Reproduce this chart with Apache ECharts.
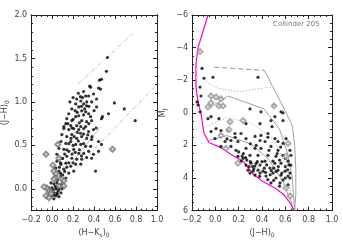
<!DOCTYPE html>
<html><head><meta charset="utf-8">
<script src="https://cdn.jsdelivr.net/npm/echarts@6/dist/echarts.min.js"></script>
<style>html,body{margin:0;padding:0;background:#fff}#c{width:343px;height:243px}</style>
</head><body><div id="c"></div>
<script>
// ---------- LEFT PANEL: (J-H)0 vs (H-Ks)0 ----------
const leftFilled = [
[0.528,1.511],[0.518,1.352],[0.452,1.25],[0.471,1.261],[0.358,1.182],[0.443,1.159],[0.462,1.148],[0.367,1.17],
[0.395,1.091],[0.348,1.068],[0.32,1.068],[0.424,1.034],[0.235,1.034],[0.273,1.011],[0.301,0.977],[0.329,0.955],
[0.377,1.0],[0.424,0.943],[0.225,0.977],[0.254,0.943],[0.282,0.898],[0.188,0.92],[0.32,0.886],[0.348,0.864],
[0.367,0.83],[0.254,0.841],[0.225,0.83],[0.159,0.864],[0.14,0.807],[0.188,0.784],[0.282,0.784],[0.329,0.773],
[0.377,0.784],[0.471,0.807],[0.131,0.75],[0.178,0.727],[0.235,0.727],[0.273,0.716],[0.32,0.716],[0.112,0.716],
[0.594,0.989],[0.688,0.92],[0.537,0.864],[0.48,0.83],[0.792,0.784],[0.443,0.432],[0.414,0.205],
[0.112,0.693],[0.159,0.682],[0.206,0.693],[0.254,0.682],[0.301,0.693],[0.348,0.659],[0.395,0.682],
[0.093,0.625],[0.14,0.602],[0.188,0.625],[0.235,0.58],[0.282,0.602],[0.329,0.58],[0.377,0.568],
[0.084,0.545],[0.131,0.523],[0.178,0.545],[0.225,0.511],[0.273,0.511],[0.32,0.489],[0.367,0.489],[0.443,0.545],[0.471,0.511],
[0.065,0.466],[0.112,0.455],[0.159,0.432],[0.206,0.455],[0.254,0.409],[0.301,0.409],[0.348,0.432],[0.395,0.398],
[0.046,0.398],[0.093,0.352],[0.14,0.375],[0.188,0.352],[0.235,0.341],[0.282,0.341],[0.377,0.352],
[0.046,0.318],[0.084,0.284],[0.131,0.295],[0.178,0.261],[0.225,0.284],[0.273,0.284],
[0.036,0.239],[0.065,0.205],[0.112,0.227],[0.159,0.182],[0.206,0.205],
[0.036,0.148],[0.084,0.148],[0.131,0.125],
[-0.011,0.068],[0.017,0.057],[0.046,0.068],[0.084,0.045],[-0.03,0.011],[-0.002,0.011],[0.036,0.0],[0.065,0.0],[0.093,0.0],
[-0.011,-0.023],[0.017,-0.045],[0.046,-0.045],[0.084,-0.045],[-0.002,-0.08],[0.036,-0.08],[0.065,-0.09],[0.017,-0.114],
[0.2,1.05],[0.25,1.1],[0.3,1.12],[0.33,1.0],[0.22,0.9],[0.3,0.85],[0.15,0.75],[0.2,0.8],[0.26,0.76],[0.35,0.95],
[0.28,0.95],[0.24,0.65],[0.3,0.63],[0.18,0.58],[0.14,0.45],[0.2,0.5],[0.26,0.45],[0.1,0.35],[0.16,0.3],[0.22,0.42],
[0.12,0.2],[0.05,0.1],[0.1,0.08],[0.0,-0.03],[0.03,0.03],[0.06,-0.02],[0.08,0.18],[0.02,-0.07],
[0.17,1.0],[0.27,1.06],[0.31,0.92],[0.24,0.88],[0.19,0.7],[0.27,0.64],[0.34,0.62],[0.21,0.6],[0.16,0.52],[0.25,0.55],
[0.3,0.52],[0.12,0.4],[0.19,0.4],[0.28,0.38],[0.33,0.36],[0.08,0.3],[0.14,0.25],[0.2,0.3],[0.1,0.16],[0.07,0.25],
[0.04,0.02],[0.07,0.04],[0.01,-0.01],[0.05,-0.06],[0.11,0.02],[0.35,0.75],[0.4,0.9],[0.38,0.6],[0.42,0.7],[0.29,1.05]
];
const leftOpen = [
[-0.058,0.398],[0.055,0.511],[0.575,0.455],[0.017,0.205],[0.036,0.17],[0.036,0.125],[0.017,0.114],[0.093,0.114],
[-0.049,0.011],[-0.077,0.023],[-0.03,-0.023],[-0.058,-0.08],[-0.011,-0.034],[-0.011,-0.057],[-0.03,-0.102],
[0.065,0.034],[0.112,0.091],[0.112,0.034],[0.008,0.273],[0.065,0.352]
];
const redUpper = [[0.25,1.21],[0.77,1.79]];
const redLower = [[0.29,0.32],[1.0,1.2]];
const cttsLine = [[0.2,0.32],[0.46,0.71]];

// ---------- RIGHT PANEL: M_J vs (J-H)0 ----------
const rightFilled = [
[-0.114,-2.73],[-0.097,-2.12],[-0.02,-2.18],[-0.123,-1.03],[-0.131,-1.58],[0.366,-2.18],[-0.157,-0.67],[-0.149,-0.48],
[0.297,-0.24],[0.503,-0.48],[0.58,0.0],[0.511,0.24],[-0.037,0.24],[0.031,0.36],[-0.131,-0.06],[-0.063,0.36],
[0.263,0.67],[0.383,0.67],[-0.037,1.15],[0.006,0.97],[0.049,1.09],[0.108,1.09],[0.168,1.27],[0.22,1.27],
[-0.003,1.58],[0.083,1.76],[0.134,1.7],[0.194,1.76],[0.263,1.58],[0.34,1.45],[0.383,1.7],[0.049,2.06],[0.134,2.06],
[0.177,2.3],[0.263,2.18],[0.34,2.18],[0.194,2.67],[0.237,2.79],[0.297,2.61],[0.366,2.61],[0.22,2.97],[0.263,3.21],
[0.306,3.09],[0.34,3.27],[0.383,3.21],[0.28,3.52],[0.323,3.58],[0.366,3.52],[0.34,3.82],[0.383,3.7],[0.297,3.7],
[0.486,0.85],[0.451,1.27],[0.391,1.39],[0.537,1.76],[0.511,1.58],[0.426,1.76],[0.58,1.88],[0.606,1.58],[0.391,2.18],
[0.477,2.06],[0.537,2.3],[0.64,2.3],[0.451,2.61],[0.52,2.67],[0.58,2.61],[0.648,2.61],[0.426,2.97],[0.494,2.97],
[0.563,3.09],[0.623,2.97],[0.648,3.21],[0.468,3.39],[0.537,3.52],[0.597,3.58],[0.64,3.7],[0.408,3.58],[0.494,3.7],
[0.563,3.82],[0.623,3.88],[0.434,3.88],[0.52,4.0],[0.58,4.12],[0.64,4.0],[0.477,4.3],[0.554,4.3],[0.623,4.42],
[0.58,0.48],[0.477,0.48],[0.563,-0.06],[0.391,-0.06],
[0.24,2.5],[0.27,2.9],[0.3,3.0],[0.32,3.3],[0.36,3.0],[0.38,3.9],[0.42,3.4],[0.44,3.2],[0.47,3.8],[0.5,3.4],
[0.52,3.6],[0.55,2.9],[0.6,3.3],[0.62,3.5],[0.45,4.1],[0.55,4.5],[0.6,4.0],
[0.2,2.4],[0.23,2.65],[0.26,2.75],[0.29,3.3],[0.33,3.45],[0.35,3.1],[0.4,3.0],[0.43,3.65],[0.48,3.55],[0.51,3.1],
[0.54,3.3],[0.57,3.7],[0.6,2.8],[0.63,3.2],[0.5,4.15],[0.53,2.5],[0.46,2.3],[0.35,2.0],[0.3,1.9],[0.17,1.5],
[0.1,1.6],[0.45,1.5],[0.56,2.1]
];
const rightOpen = [
[-0.131,-3.76],[-0.037,-1.03],[0.006,-0.97],[0.049,-0.85],[0.031,-0.42],[0.066,-0.42],[-0.037,-0.61],[-0.063,-0.36],
[0.503,-0.42],[0.126,0.55],[0.237,0.48],[0.049,1.39],[0.091,2.18],[0.194,3.09],[0.606,2.67],[0.623,1.88],
[0.606,4.61],[0.64,5.1],[0.117,1.03]
];
const zams = [
[-0.063,-6.0],[-0.106,-4.97],[-0.149,-4.0],[-0.166,-2.97],[-0.166,-1.58],[-0.149,-0.73],[-0.123,0.06],[-0.097,1.27],
[-0.054,1.82],[0.04,2.12],[0.16,2.67],[0.237,2.97],[0.323,3.76],[0.4,4.18],[0.511,4.61],[0.588,5.03],[0.64,5.52],[0.674,6.0]
];
const isoDashed = [[-0.01,-2.8],[0.42,-2.6]];
const isoA = [[0.42,-2.6],[0.6,-0.1],[0.66,0.8],[0.68,2.0],[0.69,3.5],[0.69,5.0],[0.68,6.0]];
const isoDotA = [[-0.08,-1.9],[0.02,-1.5],[0.2,-1.3],[0.48,-1.6]];
const isoB = [[-0.063,-0.24],[0.109,-1.03],[0.417,-0.24],[0.55,1.0],[0.62,2.5],[0.66,4.0],[0.68,6.0]];
const isoC = [[-0.1,0.9],[0.1,0.3],[0.3,0.6],[0.5,1.6],[0.6,3.2],[0.65,5.0],[0.67,6.0]];
const isoD = [[-0.06,1.7],[0.1,1.4],[0.3,1.9],[0.45,2.8],[0.58,4.2],[0.65,5.5],[0.67,6.0]];

const xTickLabels = [-0.2,0.0,0.2,0.4,0.6,0.8,1.0];
const leftYLabels = [0.0,0.5,1.0,1.5,2.0];
const rightYLabels = [-6,-4,-2,0,2,4,6];

const chart = echarts.init(document.getElementById('c'), null, {renderer:'canvas'});
const AX = '#222', TXT = '#444', FONT = 'DejaVu Sans';
const lblStyle = {color: TXT, fontSize: 8, fontFamily: FONT};
function range(a,b,s){const r=[];for(let v=a;v<=b+1e-9;v+=s)r.push(Math.round(v*1000)/1000);return r;}

function xAx(gi, pos, showLabel, name) {
  return {
    gridIndex: gi, type:'value', position: pos, min:-0.2, max:1.0, interval:0.2,
    axisLine:{show:true, onZero:false, lineStyle:{color:AX, width:1}},
    axisTick:{show:true, inside:true, length:4, lineStyle:{color:AX}},
    minorTick:{show:true, splitNumber:4, length:2, lineStyle:{color:AX}},
    axisLabel:{show:showLabel, ...lblStyle, margin:5, formatter:v=>v.toFixed(1).replace('-','−')},
    splitLine:{show:false}, minorSplitLine:{show:false},
    name: name || '', nameLocation:'middle', nameGap: 16,
    nameTextStyle:{color:TXT, fontSize:8, fontFamily:FONT, rich:{s:{fontSize:6, color:TXT, fontFamily:FONT, padding:[5,0,0,0]}}}
  };
}
function leftY(pos, major, showLabel, name) {
  return {
    gridIndex:0, type:'value', position:pos, min:-0.25, max:2.0,
    axisLine:{show:true, onZero:false, lineStyle:{color:AX, width:1}},
    axisTick:{show:true, inside:true, length: major?4:2, lineStyle:{color:AX},
      customValues: major ? leftYLabels : range(-0.2,2.0,0.1)},
    axisLabel:{show:showLabel, ...lblStyle, margin:4, customValues:leftYLabels, formatter:v=>v.toFixed(1)},
    splitLine:{show:false},
    name: name||'', nameLocation:'middle', nameGap: 20, nameRotate: 90,
    nameTextStyle:{color:TXT, fontSize:8, fontFamily:FONT, rich:{s:{fontSize:6, color:TXT, fontFamily:FONT, padding:[5,0,0,0]}}}
  };
}
function rightY(pos, showLabel, name) {
  return {
    gridIndex:1, type:'value', position:pos, min:-6, max:6, interval:2, inverse:true,
    axisLine:{show:true, onZero:false, lineStyle:{color:AX, width:1}},
    axisTick:{show:true, inside:true, length:4, lineStyle:{color:AX}},
    minorTick:{show:true, splitNumber:4, length:2, lineStyle:{color:AX}},
    axisLabel:{show:showLabel, ...lblStyle, margin:4, formatter:v=>String(v).replace('-','−')},
    splitLine:{show:false}, minorSplitLine:{show:false},
    name: name||'', nameLocation:'middle', nameGap: 24, nameRotate: 90,
    nameTextStyle:{color:TXT, fontSize:8, fontFamily:FONT, rich:{s:{fontSize:6, color:TXT, fontFamily:FONT, padding:[5,0,0,0]}}}
  };
}

const filledStyle = {color:'#000'};
function line(data, xi, yi, color, type, width){
  return {type:'line', xAxisIndex:xi, yAxisIndex:yi, data, showSymbol:false, symbol:'none', silent:true, animation:false,
    lineStyle:{color, width: width||0.8, type: type||'solid'}, z:2};
}

chart.setOption({
  animation:false,
  backgroundColor:'#fff',
  grid:[
    {left:30, top:15, width:127, height:198},
    {left:192, top:15, width:140, height:198}
  ],
  xAxis:[
    xAx(0,'bottom',true,'(H−K{s|s}){s|0}'),
    xAx(0,'top',false),
    xAx(1,'bottom',true,'(J−H){s|0}'),
    xAx(1,'top',false)
  ],
  yAxis:[
    leftY('left', true, true, '(J−H){s|0}'),
    leftY('left', false, false),
    leftY('right', true, false),
    leftY('right', false, false),
    rightY('left', true, 'M{s|J}'),
    rightY('right', false)
  ],
  series:[
    line(redUpper,0,0,'#aaa',[4,2,1,2]),
    line(redLower,0,0,'#aaa',[4,2,1,2]),
    line(cttsLine,0,0,'#aaa','solid'),
    {type:'scatter', xAxisIndex:0, yAxisIndex:0, data:leftFilled, symbol:'circle', symbolSize:3.2, itemStyle:filledStyle, z:3},
    {type:'scatter', xAxisIndex:0, yAxisIndex:0, data:leftOpen, symbol:'emptyDiamond', symbolSize:5, itemStyle:{color:'#777', borderWidth:0.6}, z:4},
    line(isoDashed,2,4,'#777',[5,3]),
    line(isoA,2,4,'#888','solid'),
    line(isoDotA,2,4,'#888',[1,2]),
    line(isoB,2,4,'#888','solid'),
    line(isoC,2,4,'#999',[1,2]),
    line(isoD,2,4,'#888','solid'),
    line(zams,2,4,'#ff00cc','solid',1.2),
    {type:'scatter', xAxisIndex:2, yAxisIndex:4, data:rightFilled, symbol:'circle', symbolSize:3.2, itemStyle:filledStyle, z:3},
    {type:'scatter', xAxisIndex:2, yAxisIndex:4, data:rightOpen, symbol:'emptyDiamond', symbolSize:5, itemStyle:{color:'#999', borderWidth:0.6}, z:4}
  ],
  graphic:[
    {type:'text', left:273, top:21, style:{text:'Collinder 205', fill:'#777', fontSize:7, fontFamily:FONT}}
  ]
});
</script>
</body></html>
